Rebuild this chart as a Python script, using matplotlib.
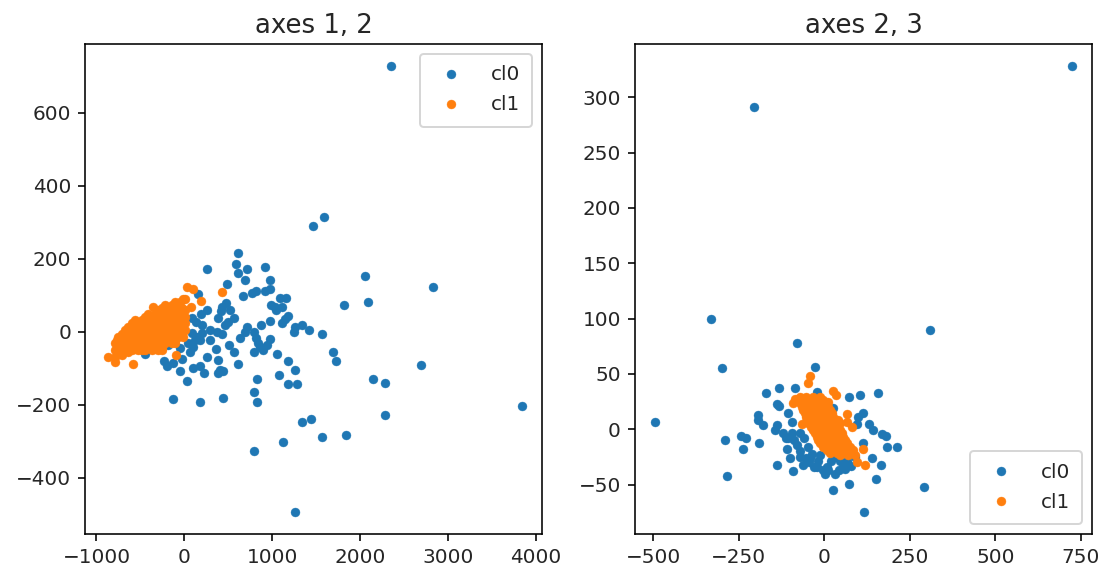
import matplotlib
matplotlib.use("Agg")
import matplotlib.pyplot as plt

W, H, DPI = 1104, 575, 144

title_left = "axes 1, 2"
title_right = "axes 2, 3"
labels = ["cl0", "cl1"]
blue = "#1f77b4"
orange = "#ff7f0e"

xlim_left = (-1127, 4071)
ylim_left = (-554, 790)
xlim_right = (-553, 783)
ylim_right = (-94.6, 348.5)
xticks_left = [-1000, 0, 1000, 2000, 3000, 4000]
yticks_left = [-400, -200, 0, 200, 400, 600]
xticks_right = [-500, -250, 0, 250, 500, 750]
yticks_right = [-50, 0, 50, 100, 150, 200, 250, 300]

# axes 1, 2 : class 0
a1_x0 = [1590, 1461, 615, 592, 717, 922, 258, 615, 694, 979, 490, 971, 922, 816, 767, 664, 160,
         1161, 1085, 1112, 983, 1036, 1047, 1821, 478, 425, 524, 258, 414, 190, 1184, 1146, 1112,
         387, 562, 501, 463, 971, 84, 129, 198, 292, 368, 433, 869, 717, 1335, 1260, 1248, 1415,
         1563, 793, 691, 634, 816, 842, 971, 941, 861, 899, 793, 1051, 509, 562, 361, 262, 380,
         615, 1184, 1256, 1081, 1180, 1282, 1688, 1722, 823, 406, 444, 387, 228, 179, 103, -49,
         27, -227, -201, -125, -30, 84, 141, 179, 46, 103, 65, 292, -447, 797, 823, 437, 179,
         -125, 1438, 122, 198, -182, -49, 2352, 2830, 2057, 2090, 2693, 2147, 2287, 2287, 3843,
         1845, 1572, 1335, 1128, 797, 1260]
a1_y0 = [314, 290, 216, 185, 173, 178, 172, 160, 142, 142, 130, 117, 112, 112, 105, 98, 103,
         92, 92, 68, 74, 68, 61, 73, 80, 69, 61, 61, 56, 49, 43, 36, 24,
         38, 38, 28, 18, 31, 37, 26, 18, 6, 0, -6, 18, 13, 18, 13, 0, 6,
         -6, 0, 0, -18, -18, -32, -19, -36, -41, -50, -56, -62, -37, -56, -46, -68, -77,
         -87, -81, -105, -118, -142, -142, -55, -81, -130, -105, -107, -114, -112, -94, -99, -106,
         -136, -81, -94, -85, -75, -4, -14, -23, -32, -41, -55, -23, -61, -166, -192, -180, -192,
         -185, -238, -23, -4, -36, -45, 727, 122, 152, 81, -91, -130, -140, -228, -204,
         -283, -288, -247, -302, -327, -494]

# axes 1, 2 : class 1
a1_x1 = [-220, -144, -68,
         -296, -220, -144, -68, 8,
         -447, -371, -296, -220, -144, -68, 8,
         -599, -523, -447, -371, -296, -220, -144, -68, 8,
         -675, -599, -523, -447, -371, -296, -220, -144, -68, 8,
         -751, -675, -599, -523, -447, -371, -296, -220, -144, -68, -15,
         -789, -751, -675, -599, -523, -447, -371, -296, -220, -144, -106,
         -789, -751, -675, -599, -523, -447, -371, -296, -257,
         -865, -789, -713, -637, -485,
         -789, 27, 103, 187, 433, 76, -98, -588, 8, -352,
         -106, -11, -50,
         -258, -182, -106, -30,
         -410, -334, -258, -182, -106, -30,
         -561, -485, -410, -334, -258, -182, -106, -30,
         -637, -561, -485, -410, -334, -258, -182, -106, -30,
         -713, -637, -561, -485, -410, -334, -258, -182, -106, -30,
         -770, -713, -637, -561, -485, -410, -334, -258, -182, -106,
         -770, -713, -637, -561, -485, -410, -334, -258]
a1_y1 = [73, 73, 73,
         59, 59, 59, 59, 59,
         41, 41, 41, 41, 41, 41, 41,
         23, 23, 23, 23, 23, 23, 23, 23, 23,
         5, 5, 5, 5, 5, 5, 5, 5, 5, 5,
         -14, -14, -14, -14, -14, -14, -14, -14, -14, -14, -14,
         -32, -32, -32, -32, -32, -32, -32, -32, -32, -32, -32,
         -50, -50, -50, -50, -50, -50, -50, -50, -50,
         -68, -68, -64, -55, -50,
         -82, 122, 117, 85, 110, 68, -63, -88, 91, 69,
         82, 91, 82,
         66, 66, 66, 66,
         50, 50, 50, 50, 50, 50,
         32, 32, 32, 32, 32, 32, 32, 32,
         14, 14, 14, 14, 14, 14, 14, 14, 14,
         -5, -5, -5, -5, -5, -5, -5, -5, -5, -5,
         -23, -23, -23, -23, -23, -23, -23, -23, -23, -23,
         -41, -41, -41, -41, -41, -41, -41, -41]

# axes 2, 3 : class 0
a2_x0 = [-79, -300, -27, -131, -171, -86, -22, 157, 104, 72, -139, -131, -105, 26, 114, 99,
         -193, -193, -178, -139, -144, -95, 95, 131, 143, 170, 179, -244, -230, -290, -191, -238,
         -120, -105, -95, -71, -110, 112, 182, 211, -47, 138, -100, -71, -61, -139, -92, 165,
         151, -283, 72, 26, 117, -42, -17, 7, 2, 31, 56, 46, 21, -13, -37, 31, 65, -22,
         290, -205, 724, -331, -494, 309,
         -113, -88, -60, -52, -30, -5, 12, 44, 78, 90, 60, -80, -70, -45]
a2_y0 = [78, 55, 56, 37, 33, 37, 34, 33, 31, 29, 23, 21, 15, 19, 15, 11,
         13, 8, 4, 4, -1, 7, 5, 5, -1, -4, -6, -6, -8, -10, -12, -18,
         -3, -8, -3, -3, -18, -12, -16, -16, -16, -26, -26, -25, -32, -32, -38, -32,
         -45, -42, -49, -55, -75, -26, -29, -34, -40, -40, -34, -29, -29, -23, -22, -25, -29, -34,
         -52, 291, 328, 100, 7, 90,
         -8, -10, -8, -26, -34, -37, -37, -37, -33, -25, -36, -14, -20, -30]

# axes 2, 3 : class 1
a2_x1 = [-71, -52, -32, -13,
         -90, -71, -52, -32, -13, 7,
         -61, -42, -22, -3, 17,
         -52, -32, -13, 7, 26,
         -47, -27, -8, 12, 31, 46,
         -32, -13, 7, 26, 46,
         -22, -3, 17, 36, 56,
         -13, 7, 26, 46, 65,
         7, 26, 46, 65, 85,
         46, 70, 90,
         -42, -47, 26, 33, 12, 65, 65, 80, 112, 95, 119, -66, -86,
         -80, -61, -42, -22, -3,
         -66, -47, -27, -8, 12,
         -57, -37, -18, 2, 22,
         -50, -30, -10, 10, 29, 40,
         -40, -20, 0, 19, 39,
         -27, -8, 12, 31, 51,
         -18, 2, 22, 41, 60,
         -3, 17, 36, 56, 75,
         17, 36, 56, 75]
a2_y1 = [29.5, 29.5, 29.5, 29.5,
         23.5, 23.5, 23.5, 23.5, 23.5, 23.5,
         17.5, 17.5, 17.5, 17.5, 17.5,
         11.4, 11.4, 11.4, 11.4, 11.4,
         5.4, 5.4, 5.4, 5.4, 5.4, 5.4,
         -0.6, -0.6, -0.6, -0.6, -0.6,
         -6.7, -6.7, -6.7, -6.7, -6.7,
         -12.7, -12.7, -12.7, -12.7, -12.7,
         -18.7, -18.7, -18.7, -18.7, -18.7,
         -23, -23, -23,
         48, 42, 35, 31, 25, 14, 7, 2, -18, -30, -32, 5, 27,
         26.5, 26.5, 26.5, 26.5, 26.5,
         20.5, 20.5, 20.5, 20.5, 20.5,
         14.5, 14.5, 14.5, 14.5, 14.5,
         8.4, 8.4, 8.4, 8.4, 8.4, 8.4,
         2.4, 2.4, 2.4, 2.4, 2.4,
         -3.6, -3.6, -3.6, -3.6, -3.6,
         -9.7, -9.7, -9.7, -9.7, -9.7,
         -15.7, -15.7, -15.7, -15.7, -15.7,
         -21, -21, -21, -21]

fig = plt.figure(figsize=(W / DPI, H / DPI), dpi=DPI)


def frame(l, r, t=43.5, b=534):
    return fig.add_axes([l / W, 1 - b / H, (r - l) / W, (b - t) / H])


def panel(ax, x0, y0, x1, y1, title, xl, yl, xt, yt, loc):
    ax.scatter(x0, y0, s=20, c=blue, edgecolors=blue, linewidths=0.2, label=labels[0])
    ax.scatter(x1, y1, s=20, c=orange, edgecolors=orange, linewidths=0.2, label=labels[1])
    ax.set_xlim(*xl)
    ax.set_ylim(*yl)
    ax.set_xticks(xt)
    ax.set_yticks(yt)
    ax.tick_params(labelcolor="#262626")
    ax.set_title(title, fontsize=13, color="#262626", pad=5)
    ax.legend(loc=loc, borderpad=0.6, handlelength=1.9, handletextpad=1.05,
              labelspacing=0.55, scatteryoffsets=[0.5], labelcolor="#262626")


panel(frame(85.3, 542), a1_x0, a1_y0, a1_x1, a1_y1, title_left,
      xlim_left, ylim_left, xticks_left, yticks_left, "upper right")
panel(frame(635, 1092.3), a2_x0, a2_y0, a2_x1, a2_y1, title_right,
      xlim_right, ylim_right, xticks_right, yticks_right, "lower right")

fig.savefig("out.png", dpi=DPI)
